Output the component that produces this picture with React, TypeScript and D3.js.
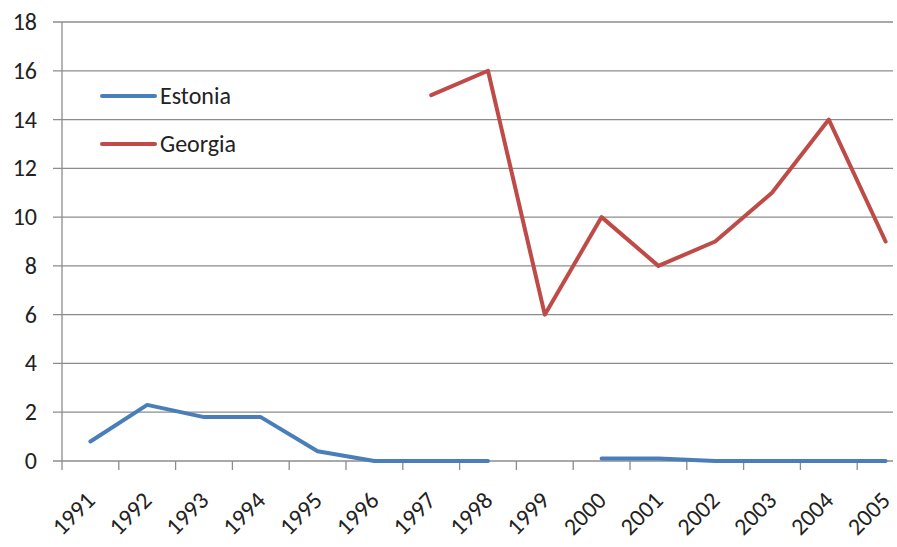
import React, { useEffect, useRef } from 'react';
import * as d3 from 'd3';

const years = ['1991', '1992', '1993', '1994', '1995', '1996', '1997', '1998', '1999', '2000', '2001', '2002', '2003', '2004', '2005'];
const estonia: (number | null)[] = [0.8, 2.3, 1.8, 1.8, 0.4, 0, 0, 0, null, 0.1, 0.1, 0, 0, 0, 0];
const georgia: (number | null)[] = [null, null, null, null, null, null, 15, 16, 6, 10, 8, 9, 11, 14, 9];
const yTicks = [0, 2, 4, 6, 8, 10, 12, 14, 16, 18];

const series = [
  { name: 'Estonia', values: estonia, color: '#4A7EBB' },
  { name: 'Georgia', values: georgia, color: '#BE4B48' },
];

const App = () => {
  const ref = useRef<SVGSVGElement>(null);

  useEffect(() => {
    document.body.style.margin = '0';
    const svg = d3.select(ref.current);
    svg.selectAll('*').remove();

    const left = 62, top = 22, bottom = 461, gridRight = 893;
    const font = 'Carlito, Calibri, Lato, sans-serif';

    // the plot runs past the right edge of the picture, as in the reference
    const x = d3.scaleBand().domain(years).range([left, left + 15 * 56.8]);
    const y = d3.scaleLinear().domain([0, 18]).range([bottom, top]);

    // gridlines
    svg.append('g')
      .selectAll('line')
      .data(yTicks)
      .enter()
      .append('line')
      .attr('x1', left - 9)
      .attr('x2', gridRight)
      .attr('y1', d => y(d))
      .attr('y2', d => y(d))
      .attr('stroke', '#8c8c8c')
      .attr('stroke-width', 1.3);

    // y axis line
    svg.append('line')
      .attr('x1', left).attr('x2', left)
      .attr('y1', top).attr('y2', bottom)
      .attr('stroke', '#8c8c8c')
      .attr('stroke-width', 1.3);

    // y labels
    svg.append('g')
      .selectAll('text')
      .data(yTicks)
      .enter()
      .append('text')
      .attr('x', 37)
      .attr('y', d => y(d) + 8)
      .attr('text-anchor', 'end')
      .attr('font-family', font)
      .attr('font-size', 24)
      .attr('fill', '#222')
      .text(d => d);

    // x ticks
    svg.append('g')
      .selectAll('line')
      .data(years)
      .enter()
      .append('line')
      .attr('x1', d => x(d)!)
      .attr('x2', d => x(d)!)
      .attr('y1', bottom)
      .attr('y2', bottom + 9)
      .attr('stroke', '#8c8c8c')
      .attr('stroke-width', 1.3);

    // x labels, rotated
    svg.append('g')
      .selectAll('text')
      .data(years)
      .enter()
      .append('text')
      .attr('transform', d => `translate(${x(d)! + x.bandwidth() / 2 + 6},${bottom + 41}) rotate(-45)`)
      .attr('text-anchor', 'end')
      .attr('font-family', font)
      .attr('font-size', 24)
      .attr('fill', '#222')
      .text(d => d);

    // lines
    series.forEach(s => {
      const line = d3.line<number | null>()
        .defined(d => d !== null)
        .x((_, i) => x(years[i])! + x.bandwidth() / 2)
        .y(d => y(d as number));
      svg.append('path')
        .datum(s.values)
        .attr('d', line)
        .attr('fill', 'none')
        .attr('stroke', s.color)
        .attr('stroke-width', 4)
        .attr('stroke-linejoin', 'round')
        .attr('stroke-linecap', 'round');
    });

    // legend
    series.forEach((s, i) => {
      const ly = 96 + i * 48;
      svg.append('line')
        .attr('x1', 102).attr('x2', 155)
        .attr('y1', ly).attr('y2', ly)
        .attr('stroke', s.color)
        .attr('stroke-width', 4)
        .attr('stroke-linecap', 'round');
      svg.append('text')
        .attr('x', 160)
        .attr('y', ly + 8)
        .attr('font-family', font)
        .attr('font-size', 24)
        .attr('fill', '#222')
        .text(s.name);
    });
  }, []);

  return <svg ref={ref} width={897} height={547} style={{ display: 'block' }}></svg>;
};

export default App;
